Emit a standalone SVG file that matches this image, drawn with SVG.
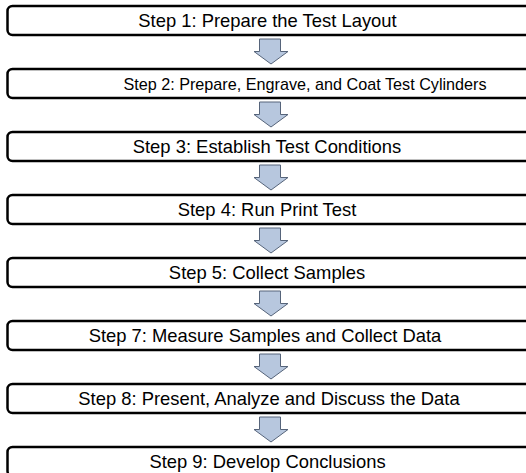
<svg xmlns="http://www.w3.org/2000/svg" width="526" height="473" viewBox="0 0 526 473">
<defs>
<style>
.box{fill:#fff;stroke:#000;stroke-width:2.5}
.lbl{font-family:"Liberation Sans",Arial,sans-serif;font-size:18.4px;fill:#000;text-anchor:middle}
.arr{fill:#b7c7de;stroke:#56647a;stroke-width:1}
</style>
<path id="arrow" class="arr" d="M259.5,0 H280.5 V12.5 H288 L271,25 L254,12.5 H259.5 Z"/>
</defs>
<rect width="526" height="473" fill="#fff"/>
<g id="connectors">
<use href="#arrow" y="39"/>
<use href="#arrow" y="102"/>
<use href="#arrow" y="165"/>
<use href="#arrow" y="228"/>
<use href="#arrow" y="291"/>
<use href="#arrow" y="354"/>
<use href="#arrow" y="417"/>
</g>
<g id="step1"><rect class="box" x="7.5" y="6" width="540" height="29" rx="5"/><text class="lbl" x="267.5" y="27">Step 1: Prepare the Test Layout</text></g>
<g id="step2"><rect class="box" x="7.5" y="69" width="540" height="29" rx="5"/><text class="lbl" x="305" y="89.5" style="font-size:16.2px">Step 2: Prepare, Engrave, and Coat Test Cylinders</text></g>
<g id="step3"><rect class="box" x="7.5" y="132" width="540" height="29" rx="5"/><text class="lbl" x="267" y="153">Step 3: Establish Test Conditions</text></g>
<g id="step4"><rect class="box" x="7.5" y="195" width="540" height="29" rx="5"/><text class="lbl" x="267" y="216">Step 4: Run Print Test</text></g>
<g id="step5"><rect class="box" x="7.5" y="258" width="540" height="29" rx="5"/><text class="lbl" x="267" y="279">Step 5: Collect Samples</text></g>
<g id="step7"><rect class="box" x="7.5" y="321" width="540" height="29" rx="5"/><text class="lbl" x="265" y="342">Step 7: Measure Samples and Collect Data</text></g>
<g id="step8"><rect class="box" x="7.5" y="384" width="540" height="29" rx="5"/><text class="lbl" x="269" y="405">Step 8: Present, Analyze and Discuss the Data</text></g>
<g id="step9"><rect class="box" x="7.5" y="447" width="540" height="29" rx="5"/><text class="lbl" x="267.5" y="468">Step 9: Develop Conclusions</text></g>
</svg>
